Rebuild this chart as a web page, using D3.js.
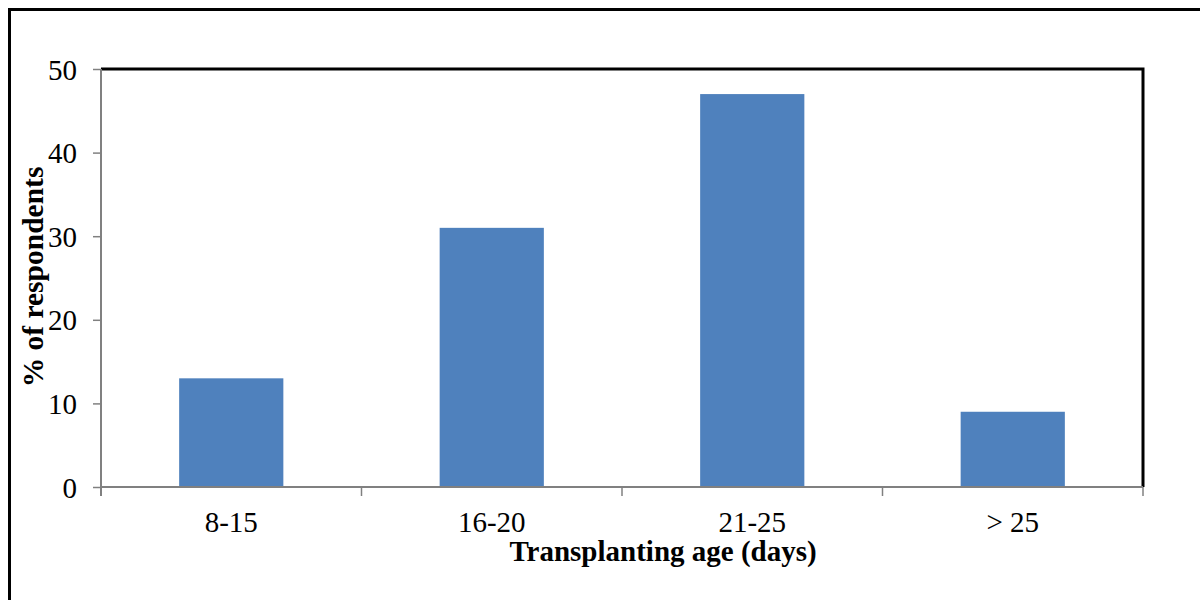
<!DOCTYPE html>
<html>
<head>
<meta charset="utf-8">
<script src="https://cdn.jsdelivr.net/npm/d3@7"></script>
<style>
    body { margin: 0; background: #fff; }
    #chart { width: 1200px; height: 600px; }
    text { font-family: "Liberation Serif", "Times New Roman", serif; fill: #000; }
</style>
</head>
<body>
<div id="chart"></div>
<script>
// data
const categories = ["8-15", "16-20", "21-25", "> 25"];
const respondents = [13, 31, 47, 9];
const yTicks = [0, 10, 20, 30, 40, 50];

const W = 1200, H = 600;
const margin = {top: 69, right: 57, bottom: 113, left: 101};
const width = W - margin.left - margin.right;
const height = H - margin.top - margin.bottom;
const fontSize = 29;

const svg = d3.select("#chart").append("svg")
    .attr("width", W)
    .attr("height", H);

// outer frame (runs off the right/bottom edge like the source)
svg.append("rect")
    .attr("x", 9.5).attr("y", 9.5)
    .attr("width", W + 20).attr("height", H + 20)
    .attr("fill", "none")
    .attr("stroke", "#000")
    .attr("stroke-width", 3);

const g = svg.append("g")
    .attr("transform", `translate(${margin.left},${margin.top})`);

const x = d3.scaleBand()
    .domain(categories)
    .range([0, width])
    .paddingInner(0.6)
    .paddingOuter(0.3);

const y = d3.scaleLinear()
    .domain([0, 50])
    .range([height, 0]);

// bars
g.selectAll(".bar")
    .data(categories)
    .join("rect")
    .attr("class", "bar")
    .attr("x", d => x(d))
    .attr("y", (d, i) => y(respondents[i]))
    .attr("width", x.bandwidth())
    .attr("height", (d, i) => height - y(respondents[i]))
    .attr("fill", "#4F81BD");

// top and right frame of plot area
g.append("path")
    .attr("d", `M0,0H${width}V${height}`)
    .attr("fill", "none")
    .attr("stroke", "#000")
    .attr("stroke-width", 3);

// y axis
const yAxis = g.append("g")
    .call(d3.axisLeft(y).tickValues(yTicks).tickSize(8).tickPadding(16));
yAxis.select(".domain").attr("stroke", "#808080").attr("stroke-width", 2)
    .attr("d", `M0,0V${height + 9}`);
yAxis.selectAll(".tick line").attr("stroke", "#808080").attr("stroke-width", 1.5);
yAxis.selectAll(".tick text")
    .attr("font-size", fontSize)
    .attr("font-family", "Liberation Serif")
    .attr("dy", "0.35em");

// x axis: labels centred on bands, ticks at band boundaries
const xAxis = g.append("g")
    .attr("transform", `translate(0,${height})`)
    .call(d3.axisBottom(x).tickSize(0).tickPadding(24));
xAxis.select(".domain").attr("stroke", "#808080").attr("stroke-width", 2)
    .attr("d", `M0,0H${width}`);
xAxis.selectAll(".tick text")
    .attr("font-size", fontSize)
    .attr("font-family", "Liberation Serif")
    .attr("dy", "0.71em");

const bounds = categories.map(c => x(c) + x.bandwidth() / 2 - x.step() / 2)
    .concat([x(categories[categories.length - 1]) + x.bandwidth() / 2 + x.step() / 2]);
xAxis.selectAll(".bound")
    .data(bounds)
    .join("line")
    .attr("class", "bound")
    .attr("x1", d => d).attr("x2", d => d)
    .attr("y1", 0).attr("y2", 9)
    .attr("stroke", "#808080")
    .attr("stroke-width", 1.5);

// axis titles
svg.append("text")
    .attr("x", 663)
    .attr("y", 561)
    .attr("text-anchor", "middle")
    .attr("font-size", fontSize)
    .attr("font-weight", "bold")
    .text("Transplanting age (days)");

svg.append("text")
    .attr("transform", `translate(43,${277}) rotate(-90)`)
    .attr("text-anchor", "middle")
    .attr("font-size", 29.5)
    .attr("font-weight", "bold")
    .text("% of respondents");
</script>
</body>
</html>
